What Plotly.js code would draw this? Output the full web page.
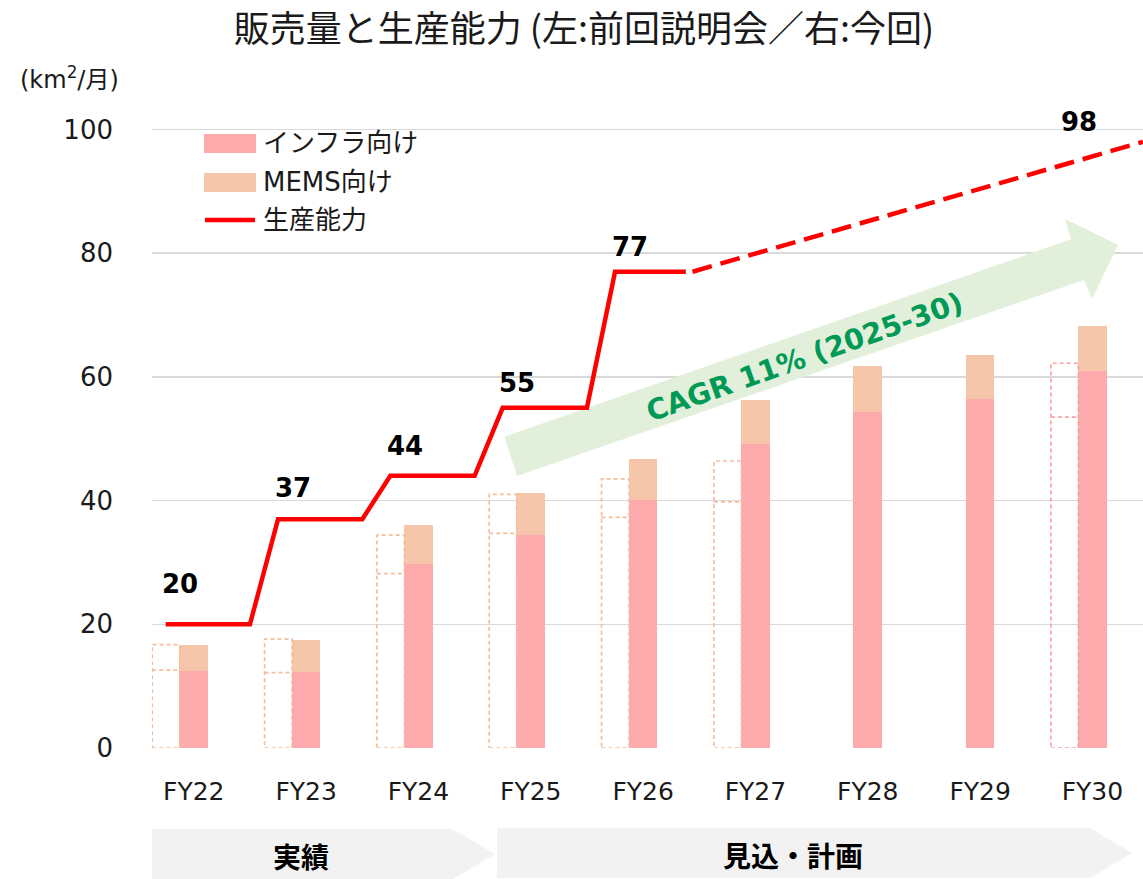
<!DOCTYPE html>
<html>
<head>
<meta charset="utf-8">
<script src="https://cdn.plot.ly/plotly-3.0.1.min.js"></script>
<style>html,body{margin:0;padding:0;background:#fff;}#chart{width:1143px;height:879px;}</style>
</head>
<body>
<div id="chart"></div>
<script>
// ---- data ----
const categories = ['FY22','FY23','FY24','FY25','FY26','FY27','FY28','FY29','FY30'];
// current plan (solid bars)
const infraNow = [12.5, 12.3, 29.7, 34.4, 40.1, 49.1, 54.4, 56.4, 60.9];
const memsNow  = [4.2, 5.2, 6.4, 6.9, 6.7, 7.2, 7.3, 7.1, 7.3];
// previous briefing (dashed outline bars)
const infraPrev = [12.6, 12.2, 28.2, 34.7, 37.3, 39.8, null, null, 53.5];
const memsPrev  = [4.1, 5.4, 6.2, 6.3, 6.2, 6.6, null, null, 8.7];
// production capacity
const capacity = [20, 37, 44, 55, 77, null, null, null, 98];
const capLabels = ['20','37','44','55','77','','','','98'];

// ---- label placement (style, pixels above the line) ----
const capLabelLift = [40, 31, 30, 25, 25, 0, 0, 0, 20];

// ---- geometry helpers ----
const W = 1143, H = 879;
const L = 152, R = 1143, T = 114, B = 748;
const xmin = -0.372, xmax = 8.45, ymin = 0, ymax = 102.5;
const pxX = (R - L) / (xmax - xmin), pxY = (B - T) / (ymax - ymin);
const dX = px => xmin + (px - L) / pxX;
const dY = py => ymin + (B - py) / pxY;
const pX = px => (px - L) / (R - L);
const pY = py => (B - py) / (B - T);

const latin = 'DejaVu Sans, Noto Sans CJK JP, sans-serif';
const cjk = 'Noto Sans CJK JP, DejaVu Sans, sans-serif';
const cInfra = '#FDAAAC', cMems = '#F5C6AA', cRed = '#FF0000';

const idx = categories.map((c, i) => i);
const barW = 0.255;

// solid bars
const traces = [
  {type:'bar', x: idx, y: infraNow, width: barW, marker:{color:cInfra, line:{width:0}}, name:'インフラ向け', hoverinfo:'skip'},
  {type:'bar', x: idx, y: memsNow, width: barW, marker:{color:cMems, line:{width:0}}, name:'MEMS向け', hoverinfo:'skip'}
];

// dashed outlines for previous values
function outline(indices) {
  const xs = [], ys = [];
  indices.forEach(i => {
    if (infraPrev[i] == null) return;
    const x0 = i - 0.37, x1 = i - 0.125;
    const inf = infraPrev[i], tot = infraPrev[i] + memsPrev[i];
    xs.push(x0, x1, x1, x0, x0, null, x0, x1, null);
    ys.push(0, 0, tot, tot, 0, null, inf, inf, null);
  });
  return {xs, ys};
}
const o1 = outline([0,1,2,3,4,5,6,7]);
const o2 = outline([8]);
traces.push({type:'scatter', mode:'lines', x:o1.xs, y:o1.ys, line:{color:'#F3BE9E', width:1.7, dash:'4px,3px'}, hoverinfo:'skip', showlegend:false, connectgaps:false});
traces.push({type:'scatter', mode:'lines', x:o2.xs, y:o2.ys, line:{color:'#F7A3A6', width:1.7, dash:'4px,3px'}, hoverinfo:'skip', showlegend:false, connectgaps:false});

// capacity step line (actual) and dashed plan
const sx = [], sy = [];
for (let i = 0; i <= 4; i++) {
  sx.push(i - 0.25); sy.push(capacity[i]);
  sx.push(i < 4 ? i + 0.5 : i + 0.38); sy.push(capacity[i]);
}
traces.push({type:'scatter', mode:'lines', x:sx, y:sy, line:{color:cRed, width:4.5}, hoverinfo:'skip', showlegend:false});
traces.push({type:'scatter', mode:'lines', x:[4.44, 8.45], y:[capacity[4], capacity[8]], line:{color:cRed, width:4.5, dash:'20px,9px'}, hoverinfo:'skip', showlegend:false});

// ---- annotations ----
const ann = [];
capacity.forEach((v, i) => {
  if (v == null) return;
  ann.push({x: i - 0.12, y: v, xref:'x', yref:'y', xanchor:'center', yanchor:'middle', text:'<b>' + capLabels[i] + '</b>', showarrow:false,
    yshift: capLabelLift[i], font:{family:latin, size:26, color:'#000'}});
});
function paperText(px, py, text, font, xanchor) {
  ann.push({x: pX(px), y: pY(py), xref:'paper', yref:'paper', xanchor: xanchor || 'center', yanchor:'middle',
    text: text, showarrow:false, font: font});
}
// unit
paperText(69, 78, '(km<sup>2</sup>/月)', {family:latin, size:24, color:'#1a1a1a'});
// CAGR text
ann.push({x: dX(804), y: dY(357), xref:'x', yref:'y', xanchor:'center', yanchor:'middle', text:'<b>CAGR 11% (2025-30)</b>', showarrow:false,
  textangle:-19.5, font:{family:latin, size:28.5, color:'#009A56'}});
// legend text
[['インフラ向け',143],['MEMS向け',182],['生産能力',220]].forEach(it =>
  paperText(261, it[1], it[0], {family:latin, size:26, color:'#1a1a1a'}, 'left'));
// phase labels
paperText(301, 856, '<b>実績</b>', {family:cjk, size:28, color:'#000'});
paperText(793, 855, '<b>見込・計画</b>', {family:cjk, size:28, color:'#000'});

// ---- shapes ----
const shapes = [];
function pathData(pts){ return 'M' + pts.map(p => dX(p[0]) + ',' + dY(p[1])).join('L') + 'Z'; }
function pathPaper(pts){ return 'M' + pts.map(p => pX(p[0]) + ',' + pY(p[1])).join('L') + 'Z'; }
// green growth arrow
shapes.push({type:'path', xref:'x', yref:'y', layer:'between', line:{width:0}, fillcolor:'#E2EFDA',
  path: pathData([[504.6,436.7],[1071,239.3],[1065,219],[1118,245],[1092,299],[1084,280],[517,476]])});
// phase chevrons
shapes.push({type:'path', xref:'paper', yref:'paper', layer:'below', line:{width:0}, fillcolor:'#F2F2F2',
  path: pathPaper([[152,829],[452,829],[495,854],[452,880],[152,880]])});
shapes.push({type:'path', xref:'paper', yref:'paper', layer:'below', line:{width:0}, fillcolor:'#F2F2F2',
  path: pathPaper([[497,828],[1090,828],[1132,853],[1090,878],[497,878]])});
// legend symbols
shapes.push({type:'rect', xref:'paper', yref:'paper', line:{width:0}, fillcolor:cInfra, x0:pX(204), x1:pX(256), y0:pY(153), y1:pY(134)});
shapes.push({type:'rect', xref:'paper', yref:'paper', line:{width:0}, fillcolor:cMems, x0:pX(204), x1:pX(256), y0:pY(192), y1:pY(173)});
shapes.push({type:'line', xref:'paper', yref:'paper', line:{width:4.5, color:cRed}, x0:pX(205), x1:pX(255), y0:pY(220), y1:pY(220)});

const layout = {
  width: W, height: H,
  margin: {l: L, r: W - R, t: T, b: H - B, pad: 0},
  paper_bgcolor: '#fff', plot_bgcolor: 'rgba(0,0,0,0)',
  barmode: 'stack', showlegend: false,
  title: {text: '販売量と生産能力 (左:前回説明会／右:今回)', x: 584 / W, xref: 'container', xanchor: 'center',
    y: 1 - 29 / H, yref: 'container', yanchor: 'middle', font: {family: cjk, size: 36, color: '#1a1a1a'}},
  xaxis: {range: [xmin, xmax], tickvals: idx, ticktext: categories, showgrid: false, zeroline: false, showline: false,
    ticks: '', ticklabelstandoff: 26, tickfont: {family: latin, size: 25, color: '#1a1a1a'}, fixedrange: true},
  yaxis: {range: [ymin, ymax], tickvals: [0,20,40,60,80,100], showgrid: true, gridcolor: '#D9D9D9', gridwidth: 1.5,
    zeroline: false, showline: false, ticks: '', ticklabelstandoff: 38,
    tickfont: {family: latin, size: 26, color: '#1a1a1a'}, fixedrange: true},
  annotations: ann, shapes: shapes
};

Plotly.newPlot('chart', traces, layout, {displayModeBar: false, staticPlot: true});
</script>
</body>
</html>
